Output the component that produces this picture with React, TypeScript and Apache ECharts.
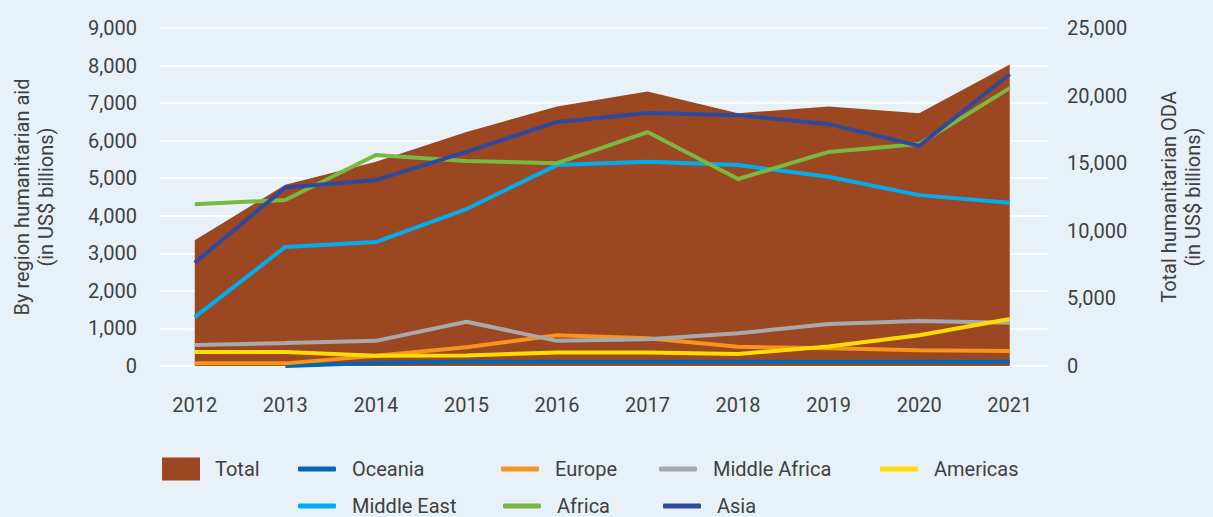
import React, { useEffect, useRef } from "react";
import * as echarts from "echarts";

const years = ["2012", "2013", "2014", "2015", "2016", "2017", "2018", "2019", "2020", "2021"];
const total = [9300, 13400, 15100, 17300, 19200, 20300, 18700, 19200, 18700, 22300];
const oceania = [null, 0, 80, 120, 110, 110, 110, 110, 110, 110];
const europe = [70, 70, 270, 500, 820, 740, 510, 470, 420, 400];
const middleAfrica = [560, 610, 670, 1180, 670, 710, 870, 1120, 1200, 1150];
const americas = [370, 370, 270, 280, 360, 360, 320, 520, 820, 1250];
const middleEast = [1300, 3170, 3300, 4180, 5350, 5440, 5350, 5040, 4550, 4350];
const africa = [4310, 4420, 5620, 5460, 5400, 6230, 4980, 5700, 5910, 7400];
const asia = [2750, 4750, 4950, 5700, 6500, 6735, 6680, 6440, 5860, 7770];

const FONT = "Roboto";
const TXT = "#404040";

const lineSeries = [
  { name: "Oceania", data: oceania, color: "#0068B3" },
  { name: "Europe", data: europe, color: "#F7941D" },
  { name: "Middle Africa", data: middleAfrica, color: "#A7A9AC" },
  { name: "Americas", data: americas, color: "#FFDD00" },
  { name: "Middle East", data: middleEast, color: "#00AEEF" },
  { name: "Africa", data: africa, color: "#7AB843" },
  { name: "Asia", data: asia, color: "#2E4A9E" },
];

const legendPos: Record<string, [number, number]> = {
  Oceania: [298, 459],
  Europe: [501, 459],
  "Middle Africa": [659, 459],
  Americas: [880, 459],
  "Middle East": [298, 496],
  Africa: [503, 496],
  Asia: [663, 496],
};

export default function App() {
  const ref = useRef<HTMLDivElement>(null);
  useEffect(() => {
    if (!ref.current) return;
    const chart = echarts.init(ref.current, null, { renderer: "svg" });
    const legends: any[] = [
      {
        data: ["Total"],
        left: 162,
        top: 457.5,
        padding: 0,
        icon: "rect",
        itemWidth: 38,
        itemHeight: 23,
        textStyle: { fontFamily: FONT, fontSize: 20, color: TXT, lineHeight: 20, padding: [0, 0, 0, 10] },
      },
      ...lineSeries.map((s) => ({
        data: [s.name],
        left: legendPos[s.name][0],
        top: legendPos[s.name][1],
        padding: 0,
        icon: "roundRect",
        itemWidth: 38,
        itemHeight: 5,
        textStyle: { fontFamily: FONT, fontSize: 20, color: TXT, lineHeight: 20, padding: [0, 0, 0, 11] },
      })),
    ];
    chart.setOption({
      animation: false,
      backgroundColor: "#E9F1F8",
      grid: [
        { left: 149.5, right: 154.5, top: 28, bottom: 151 },
        { left: 160, right: 165, top: 28, bottom: 151 },
      ],
      legend: legends,
      xAxis: [
        {
          type: "category",
          gridIndex: 0,
          data: years,
          boundaryGap: true,
          axisLine: { show: false },
          axisTick: { show: false },
          axisLabel: { fontFamily: FONT, fontSize: 20, color: TXT, margin: 29 },
        },
        {
          type: "value",
          gridIndex: 1,
          show: false,
          min: 0,
          max: 1,
        },
      ],
      yAxis: [
        {
          type: "value",
          gridIndex: 0,
          min: 0,
          max: 9000,
          interval: 1000,
          axisLabel: { show: false },
          splitLine: { show: false },
          axisLine: { show: false },
          axisTick: { show: false },
        },
        {
          type: "value",
          gridIndex: 0,
          position: "right",
          min: 0,
          max: 25000,
          interval: 5000,
          splitLine: { show: false },
          axisLine: { show: false },
          axisTick: { show: false },
          axisLabel: {
            fontFamily: FONT,
            fontSize: 20,
            color: TXT,
            margin: 12,
            formatter: (v: number) => v.toLocaleString("en-US"),
          },
          name: "Total humanitarian ODA\n(in US$ billions)",
          nameLocation: "middle",
          nameRotate: 90,
          nameGap: 102,
          nameTextStyle: { fontFamily: FONT, fontSize: 20, color: TXT, lineHeight: 24 },
        },
        {
          type: "value",
          gridIndex: 1,
          position: "left",
          min: 0,
          max: 9000,
          interval: 1000,
          splitLine: { show: true, lineStyle: { color: "#FFFFFF", width: 2 } },
          axisLine: { show: false },
          axisTick: { show: false },
          axisLabel: {
            fontFamily: FONT,
            fontSize: 20,
            color: TXT,
            margin: 23,
            formatter: (v: number) => v.toLocaleString("en-US"),
          },
          name: "By region humanitarian aid\n(in US$ billions)",
          nameLocation: "middle",
          nameRotate: 90,
          nameGap: 102,
          nameTextStyle: { fontFamily: FONT, fontSize: 20, color: TXT, lineHeight: 24 },
        },
      ],
      series: [
        {
          name: "Total",
          type: "line",
          xAxisIndex: 0,
          yAxisIndex: 1,
          data: total,
          showSymbol: false,
          lineStyle: { width: 0, color: "#9B4722" },
          itemStyle: { color: "#9B4722" },
          areaStyle: { color: "#9B4722", opacity: 1 },
          z: 1,
        },
        ...lineSeries.map((s, i) => ({
          name: s.name,
          type: "line",
          xAxisIndex: 0,
          yAxisIndex: 0,
          data: s.data,
          showSymbol: false,
          connectNulls: false,
          lineStyle: { width: 4, color: s.color },
          itemStyle: { color: s.color },
          z: 2 + i,
        })),
      ],
    });
    return () => chart.dispose();
  }, []);
  return (
    <div
      ref={ref}
      style={{ position: "absolute", left: 0, top: 0, width: 1213, height: 517 }}
    />
  );
}
